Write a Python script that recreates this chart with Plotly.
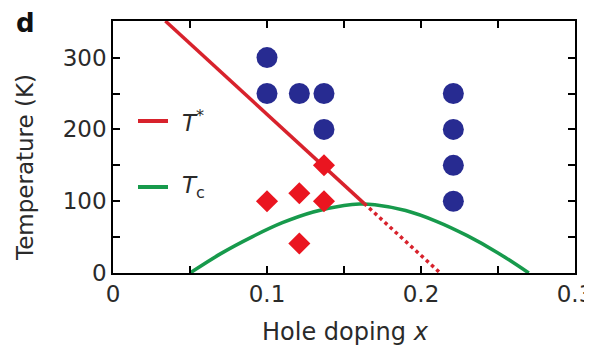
import plotly.graph_objects as go

# Pseudogap-region probe points (blue circles)
circle_x = [0.10, 0.10, 0.121, 0.137, 0.137, 0.221, 0.221, 0.221, 0.221]
circle_T = [300, 250, 250, 250, 200, 250, 200, 150, 100]

# Red diamonds
diamond_x = [0.10, 0.121, 0.137, 0.137, 0.121]
diamond_T = [100, 111, 100, 150, 41]

# T* line (solid part and dotted extrapolation)
tstar_solid_x = [0.034, 0.163]
tstar_solid_T = [351, 97]
tstar_dot_x = [0.163, 0.2125]
tstar_dot_T = [97, 0]

# Tc dome
tc_x = [0.05, 0.07, 0.09, 0.11, 0.13, 0.15, 0.16, 0.17, 0.19, 0.21, 0.23, 0.25, 0.27]
tc_T = [0, 27, 50, 70, 85, 94, 96, 95, 87, 72, 52, 28, 0]

x_ticks = [0, 0.1, 0.2, 0.3]
x_ticklabels = ["0", "0.1", "0.2", "0.3"]
y_ticks = [0, 100, 200, 300]

RED_LINE = "#d8222c"
GREEN = "#179a4c"
BLUE = "#272b91"
RED = "#ea1520"
FONT = "DejaVu Sans, Arial, sans-serif"
TXT = "#2a2a2a"

# window-pixel geometry of the plot area (page body has an 8px margin)
PL, PR, PT, PB = 113, 575, 21, 273
def px(x):
    return (x - PL) / (PR - PL)
def py(y):
    return (PB - y) / (PB - PT)

fig = go.Figure()
fig.add_trace(go.Scatter(x=tc_x, y=tc_T, mode="lines", line=dict(color=GREEN, width=3.5, shape="spline"),
                         showlegend=False))
fig.add_trace(go.Scatter(x=tstar_dot_x, y=tstar_dot_T, mode="lines",
                         line=dict(color=RED_LINE, width=3.5, dash="dot"), showlegend=False))
fig.add_trace(go.Scatter(x=tstar_solid_x, y=tstar_solid_T, mode="lines",
                         line=dict(color=RED_LINE, width=3.5), showlegend=False))
fig.add_trace(go.Scatter(x=circle_x, y=circle_T, mode="markers",
                         marker=dict(color=BLUE, size=21, line=dict(width=0)), showlegend=False))
fig.add_trace(go.Scatter(x=diamond_x, y=diamond_T, mode="markers",
                         marker=dict(color=RED, size=17, symbol="diamond", line=dict(width=0)),
                         showlegend=False))

axis_common = dict(showline=True, linecolor="black", linewidth=1.5, mirror="ticks",
                   ticks="inside", ticklen=7, tickwidth=1.5, tickcolor="black",
                   showgrid=False, zeroline=False, ticklabeloverflow="allow", automargin=False,
                   tickfont=dict(family=FONT, size=23, color=TXT))

fig.update_xaxes(range=[0, 0.3], tickvals=x_ticks, ticktext=x_ticklabels,
                 minor=dict(ticks="inside", dtick=0.05, tick0=0, ticklen=7, tickwidth=1.5,
                            tickcolor="black"),
                 **axis_common)
fig.update_yaxes(range=[0, 351], tickvals=y_ticks,
                 minor=dict(ticks="inside", dtick=50, tick0=0, ticklen=7, tickwidth=1.5,
                            tickcolor="black"),
                 **axis_common)

# Legend drawn as short line samples plus labels
fig.add_shape(type="line", xref="paper", yref="paper", x0=px(138), x1=px(168),
              y0=py(121), y1=py(121), line=dict(color=RED_LINE, width=4))
fig.add_shape(type="line", xref="paper", yref="paper", x0=px(138), x1=px(168),
              y0=py(187), y1=py(187), line=dict(color=GREEN, width=4))
fig.add_annotation(xref="paper", yref="paper", x=px(180), y=py(121),
                   text="<i>T</i><sup>*</sup>", showarrow=False, xanchor="left", yanchor="middle",
                   font=dict(family=FONT, size=23, color=TXT))
fig.add_annotation(xref="paper", yref="paper", x=px(180), y=py(187),
                   text="<i>T</i><sub>c</sub>", showarrow=False, xanchor="left", yanchor="middle",
                   font=dict(family=FONT, size=23, color=TXT))

# Axis titles and panel label
fig.add_annotation(xref="paper", yref="paper", x=px(345), y=py(332), text="Hole doping <i>x</i>",
                   showarrow=False, xanchor="center", yanchor="middle",
                   font=dict(family=FONT, size=24, color=TXT))
fig.add_annotation(xref="paper", yref="paper", x=px(25), y=py(168),
                   text="Temperature (K)", textangle=-90, showarrow=False,
                   xanchor="center", yanchor="middle", font=dict(family=FONT, size=23, color=TXT))
fig.add_annotation(xref="paper", yref="paper", x=px(25), y=py(23),
                   text="<b>d</b>", showarrow=False, xanchor="center", yanchor="middle",
                   font=dict(family=FONT, size=26, color="#111"))

fig.update_layout(width=584, height=345, margin=dict(l=105, r=17, t=13, b=80),
                  paper_bgcolor="white", plot_bgcolor="white", showlegend=False)

fig.write_html("out.html")
